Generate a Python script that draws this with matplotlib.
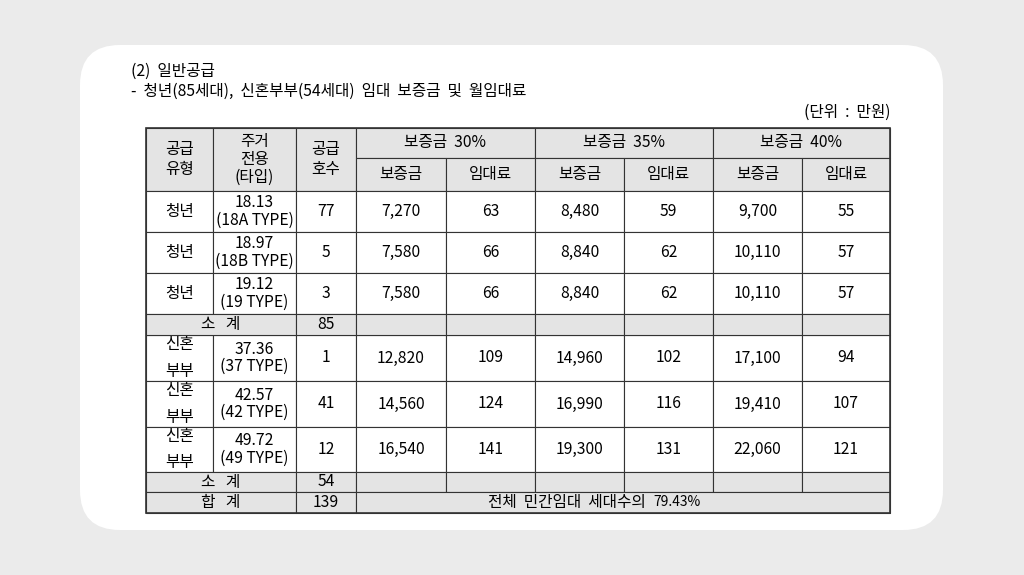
import matplotlib
matplotlib.use("Agg")
import matplotlib.pyplot as plt
from matplotlib.patches import FancyBboxPatch, Rectangle

plt.rcParams['font.family'] = ['Noto Sans CJK KR', 'DejaVu Sans']

types = ["청년", "청년", "청년", "신혼\n부부", "신혼\n부부", "신혼\n부부"]
areas = ["18.13\n(18A TYPE)", "18.97\n(18B TYPE)", "19.12\n(19 TYPE)",
         "37.36\n(37 TYPE)", "42.57\n(42 TYPE)", "49.72\n(49 TYPE)"]
units = [77, 5, 3, 1, 41, 12]
dep30 = ["7,270", "7,580", "7,580", "12,820", "14,560", "16,540"]
rent30 = [63, 66, 66, 109, 124, 141]
dep35 = ["8,480", "8,840", "8,840", "14,960", "16,990", "19,300"]
rent35 = [59, 62, 62, 102, 116, 131]
dep40 = ["9,700", "10,110", "10,110", "17,100", "19,410", "22,060"]
rent40 = [55, 57, 57, 94, 107, 121]
subtotals = [85, 54]
total = 139
groups = ["보증금  30%", "보증금  35%", "보증금  40%"]

fig = plt.figure(figsize=(10.24, 5.75), dpi=100)
fig.patch.set_facecolor("#ebebeb")
ax = fig.add_axes([0, 0, 1, 1])
ax.set_xlim(0, 1024); ax.set_ylim(575, 0); ax.axis("off")
ax.add_patch(FancyBboxPatch((80, 45), 863, 485, boxstyle="round,pad=0,rounding_size=40",
                            fc="white", ec="none"))

fs = 11.3
ax.text(131, 71, "(2)  일반공급", fontsize=fs, va="center")
ax.text(131, 91, "-  청년(85세대),  신혼부부(54세대)  임대  보증금  및  월임대료", fontsize=fs, va="center")
ax.text(890, 112, "(단위  :  만원)", fontsize=fs, va="center", ha="right")

xs = [146, 213, 296, 356, 446, 535, 624, 713, 802, 890]
ys = [128, 158, 191, 232, 273, 314, 335, 381, 427, 472, 492, 513]
gray = "#e4e4e4"
lc = "#333333"

def cell(x0, x1, y0, y1, text="", fill="white", size=fs, ls=1.0):
    ax.add_patch(Rectangle((x0, y0), x1 - x0, y1 - y0, fc=fill, ec=lc, lw=0.8))
    if text != "":
        ax.text((x0 + x1) / 2, (y0 + y1) / 2, str(text), ha="center", va="center",
                fontsize=size, linespacing=ls)

cell(xs[0], xs[1], ys[0], ys[2], "공급\n유형", gray, ls=1.3)
cell(xs[1], xs[2], ys[0], ys[2], "주거\n전용\n(타입)", gray, ls=1.05)
cell(xs[2], xs[3], ys[0], ys[2], "공급\n호수", gray, ls=1.3)
for g in range(3):
    cell(xs[3 + 2 * g], xs[5 + 2 * g], ys[0], ys[1], groups[g], gray)
    cell(xs[3 + 2 * g], xs[4 + 2 * g], ys[1], ys[2], "보증금", gray)
    cell(xs[4 + 2 * g], xs[5 + 2 * g], ys[1], ys[2], "임대료", gray)

rows = [(ys[2], ys[3]), (ys[3], ys[4]), (ys[4], ys[5]),
        (ys[6], ys[7]), (ys[7], ys[8]), (ys[8], ys[9])]
for i, (y0, y1) in enumerate(rows):
    vals = [types[i], areas[i], units[i], dep30[i], rent30[i], dep35[i], rent35[i], dep40[i], rent40[i]]
    for c, v in enumerate(vals):
        cell(xs[c], xs[c + 1], y0, y1, v, ls=1.7 if c == 0 else 1.05)

for k, (y0, y1) in enumerate([(ys[5], ys[6]), (ys[9], ys[10])]):
    cell(xs[0], xs[2], y0, y1, "소   계", gray)
    cell(xs[2], xs[3], y0, y1, subtotals[k], gray)
    for c in range(3, 9):
        cell(xs[c], xs[c + 1], y0, y1, "", gray)

cell(xs[0], xs[2], ys[10], ys[11], "합   계", gray)
cell(xs[2], xs[3], ys[10], ys[11], total, gray)
cell(xs[3], xs[9], ys[10], ys[11], "", gray)
cx = (xs[3] + xs[9]) / 2 + 30
ax.text(cx, (ys[10] + ys[11]) / 2, "전체  민간임대  세대수의  ",
        ha="right", va="center", fontsize=fs)
ax.text(cx, (ys[10] + ys[11]) / 2, "79.43%",
        ha="left", va="center", fontsize=10)
ax.add_patch(Rectangle((xs[0], ys[0]), xs[9] - xs[0], ys[11] - ys[0], fc="none", ec=lc, lw=1.2))

fig.savefig("out.png", dpi=100)
